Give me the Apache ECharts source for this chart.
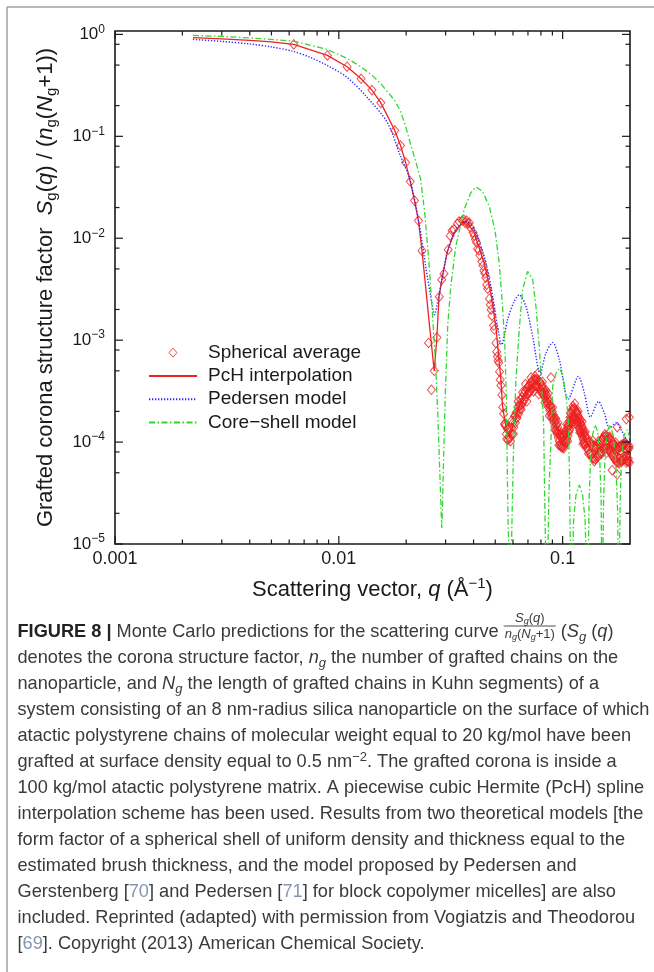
<!DOCTYPE html>
<html>
<head>
<meta charset="utf-8">
<script src="https://cdn.jsdelivr.net/npm/echarts@6/dist/echarts.min.js"></script>
<style>
  html, body { margin: 0; padding: 0; background: #ffffff; }
  #chart { width: 654px; height: 972px; }
</style>
</head>
<body>
<div id="chart"></div>
<script>
// ---- axis ranges and tick values ----
const Q_MIN = 0.001, Q_MAX = 0.2;
const S_MIN = 1e-5, S_MAX = 1.08;

const xTickValues = [0.001, 0.01, 0.1];
const xTickLabels = ['0.001', '0.01', '0.1'];
const xMinorTicks = [0.002, 0.003, 0.004, 0.005, 0.006, 0.007, 0.008, 0.009,
                     0.02, 0.03, 0.04, 0.05, 0.06, 0.07, 0.08, 0.09];

const yTickValues = [1e-5, 1e-4, 1e-3, 1e-2, 1e-1, 1];
const yTickExponents = ['−5', '−4', '−3', '−2', '−1', '0'];
const yMinorTicks = [2e-5, 5e-5, 8e-5, 2e-4, 5e-4, 8e-4, 2e-3, 5e-3, 8e-3,
                     0.02, 0.05, 0.08, 0.2, 0.5, 0.8];

// ---- Monte Carlo spherical average, [q (1/Å), Sg/(ng(Ng+1))] ----
const sphericalAverage = [
  [0.00629,0.798],[0.00889,0.622],[0.01089,0.482],[0.01258,0.367],[0.01406,0.284],
  [0.01541,0.213],[0.01779,0.114],[0.01887,0.0812],[0.01989,0.0553],[0.02086,0.036],
  [0.02179,0.0234],[0.02268,0.0149],[0.02353,0.00755],[0.02516,9.4e-4],[0.02593,3.26e-4],
  [0.02669,5.0e-4],[0.02742,1.06e-3],[0.02813,2.67e-3],[0.02882,3.92e-3],[0.0295,4.49e-3],
  [0.03081,7.73e-3],[0.03145,0.0106],[0.03207,0.0119],[0.03268,0.0122],[0.03387,0.0139],
  [0.03445,0.0146],[0.03558,0.0149],[0.03613,0.0152],[0.03668,0.0142],[0.03721,0.0149],
  [0.03774,0.0139],[0.03826,0.0142],[0.03877,0.0127],[0.03978,0.0114],[0.04028,0.0106],
  [0.04076,0.0097],[0.04125,0.0091],[0.04172,0.0079],[0.0422,0.0076],[0.04266,0.0068],
  [0.04358,0.0059],[0.04403,0.0054],[0.04448,0.0048],[0.04492,0.0045],[0.04536,0.0041],
  [0.04579,0.0035],[0.04622,0.0032],[0.04707,0.00255],[0.04749,0.00223],[0.0479,0.00199],
  [0.04831,0.00174],[0.04913,0.00139],[0.04953,0.00127],[0.05032,9.4e-4],[0.05071,7.7e-4],
  [0.0511,6.9e-4],[0.05149,6.3e-4],[0.05187,6.0e-4],[0.05225,4.9e-4],[0.05262,4.1e-4],
  [0.053,3.6e-4],[0.0535,2.9e-4],[0.054,2.2e-4],[0.0545,1.9e-4],[0.055,1.5e-4],
  [0.0555,1.45e-4],[0.056,1.2e-4],[0.0565,1.35e-4],[0.057,1.05e-4],[0.0575,1.1e-4],
  [0.058,1.25e-4],[0.0585,1.02e-4],[0.059,1.38e-4],[0.0595,1.2e-4],[0.06,1.55e-4],
  [0.0605,1.4e-4],[0.061,1.78e-4],[0.0615,1.55e-4],[0.062,1.95e-4],[0.0625,1.75e-4],
  [0.063,2.2e-4],[0.0635,1.9e-4],[0.064,2.35e-4],[0.0645,2.1e-4],[0.065,2.6e-4],
  [0.0655,2.3e-4],[0.066,2.75e-4],[0.0665,2.45e-4],[0.067,2.95e-4],[0.0675,2.6e-4],
  [0.068,3.15e-4],[0.0685,2.8e-4],[0.069,3.3e-4],[0.0695,2.95e-4],[0.07,3.5e-4],
  [0.0705,3.05e-4],[0.071,3.6e-4],[0.0715,3.2e-4],[0.072,3.85e-4],[0.0725,3.35e-4],
  [0.073,3.95e-4],[0.0735,3.4e-4],[0.074,4.05e-4],[0.0745,3.5e-4],[0.075,4.1e-4],
  [0.0755,3.55e-4],[0.076,4.15e-4],[0.0765,3.6e-4],[0.077,4.1e-4],[0.0775,3.5e-4],
  [0.078,4.0e-4],[0.0785,3.4e-4],[0.079,3.9e-4],[0.0795,3.3e-4],[0.08,3.75e-4],
  [0.0805,3.15e-4],[0.081,3.55e-4],[0.0815,3.0e-4],[0.082,3.35e-4],[0.0825,2.85e-4],
  [0.083,3.15e-4],[0.0835,2.7e-4],[0.084,3.0e-4],[0.0845,2.55e-4],[0.085,2.85e-4],
  [0.0855,2.4e-4],[0.086,2.65e-4],[0.0865,2.2e-4],[0.087,2.5e-4],[0.0875,2.05e-4],
  [0.088,2.3e-4],[0.0885,1.9e-4],[0.0887,4.3e-4],[0.089,2.15e-4],[0.0895,1.8e-4],
  [0.09,2.0e-4],[0.0905,1.65e-4],[0.091,1.85e-4],[0.0915,1.55e-4],[0.092,1.72e-4],
  [0.0925,1.42e-4],[0.093,1.58e-4],[0.0935,1.3e-4],[0.094,1.5e-4],[0.0945,1.2e-4],
  [0.095,1.4e-4],[0.0955,1.1e-4],[0.096,1.28e-4],[0.0965,1.02e-4],[0.097,1.2e-4],
  [0.0975,9.4e-5],[0.098,1.12e-4],[0.0985,9.0e-5],[0.099,1.1e-4],[0.0995,8.8e-5],
  [0.1,1.12e-4],[0.1005,9.0e-5],[0.101,1.14e-4],[0.1015,9.3e-5],[0.102,1.16e-4],
  [0.1025,9.6e-5],[0.103,1.2e-4],[0.1035,1.0e-4],[0.104,1.3e-4],[0.1045,1.08e-4],
  [0.105,1.38e-4],[0.1055,1.15e-4],[0.106,1.48e-4],[0.1065,1.25e-4],[0.107,1.6e-4],
  [0.1075,1.35e-4],[0.108,1.75e-4],[0.1085,1.48e-4],[0.109,1.9e-4],[0.1095,1.6e-4],
  [0.11,2.05e-4],[0.1105,1.7e-4],[0.111,2.1e-4],[0.1115,1.75e-4],[0.112,2.15e-4],
  [0.1125,1.78e-4],[0.113,2.12e-4],[0.1135,1.72e-4],[0.114,2.05e-4],[0.1145,1.68e-4],
  [0.115,2.0e-4],[0.1155,1.62e-4],[0.116,1.95e-4],[0.1165,1.55e-4],[0.117,1.85e-4],
  [0.1175,1.45e-4],[0.118,1.75e-4],[0.1185,1.38e-4],[0.119,1.65e-4],[0.1195,1.3e-4],
  [0.12,1.55e-4],[0.1205,1.25e-4],[0.121,1.5e-4],[0.1215,1.2e-4],[0.122,1.42e-4],
  [0.1225,1.13e-4],[0.123,1.35e-4],[0.1235,1.06e-4],[0.124,1.28e-4],[0.1245,1.0e-4],
  [0.125,1.22e-4],[0.1255,9.6e-5],[0.126,1.16e-4],[0.1265,9.3e-5],[0.127,1.12e-4],
  [0.128,8.8e-5],[0.129,1.05e-4],[0.13,8.3e-5],[0.131,1.0e-4],[0.132,7.8e-5],
  [0.133,9.6e-5],[0.134,7.4e-5],[0.135,9.4e-5],[0.136,7.0e-5],[0.137,9.2e-5],
  [0.138,6.9e-5],[0.139,9.0e-5],[0.14,6.8e-5],[0.141,9.1e-5],[0.142,7.0e-5],
  [0.143,9.3e-5],[0.144,7.2e-5],[0.145,9.6e-5],[0.146,7.5e-5],[0.147,1.0e-4],
  [0.148,7.8e-5],[0.149,1.04e-4],[0.15,8.1e-5],[0.151,1.08e-4],[0.152,8.4e-5],
  [0.153,1.12e-4],[0.154,8.6e-5],[0.155,1.14e-4],[0.156,8.7e-5],[0.157,1.15e-4],
  [0.158,8.6e-5],[0.159,1.12e-4],[0.16,8.4e-5],[0.161,1.1e-4],[0.162,8.2e-5],
  [0.163,1.08e-4],[0.164,8.0e-5],[0.165,1.03e-4],[0.1664,5.3e-5],[0.166,7.6e-5],
  [0.167,9.8e-5],[0.168,7.2e-5],[0.169,9.4e-5],[0.17,6.9e-5],[0.171,9.2e-5],
  [0.172,6.7e-5],[0.173,9.0e-5],[0.174,6.5e-5],[0.1752,4.8e-5],[0.1753,1.4e-4],
  [0.1755,8.8e-5],[0.177,6.3e-5],[0.178,8.9e-5],[0.179,6.2e-5],[0.18,9.0e-5],
  [0.181,6.4e-5],[0.182,9.2e-5],[0.183,6.5e-5],[0.184,9.4e-5],[0.185,6.7e-5],
  [0.186,9.5e-5],[0.187,6.8e-5],[0.188,9.6e-5],[0.189,6.9e-5],[0.19,9.5e-5],
  [0.191,6.8e-5],[0.1923,1.68e-4],[0.192,9.3e-5],[0.193,6.6e-5],[0.194,9.1e-5],
  [0.195,6.5e-5],[0.196,8.9e-5],[0.197,6.4e-5],[0.198,8.7e-5],[0.1985,1.75e-4],
  [0.199,6.3e-5],
  [0.05525,1.52e-4],[0.05625,1.07e-4],[0.05725,1.37e-4],[0.05825,1.1e-4],[0.05925,1.62e-4],
  [0.06025,1.2e-4],[0.06125,1.83e-4],[0.06225,1.71e-4],[0.06325,2.51e-4],[0.06425,2.26e-4],
  [0.06525,2.09e-4],[0.06625,3.09e-4],[0.06725,2.62e-4],[0.06825,3.71e-4],[0.06925,2.51e-4],
  [0.07025,3.52e-4],[0.07125,3.06e-4],[0.07225,4.3e-4],[0.07325,3.67e-4],[0.07425,3.14e-4],
  [0.07525,4.43e-4],[0.07625,3.55e-4],[0.07725,4.69e-4],[0.07825,2.96e-4],[0.07925,3.84e-4],
  [0.08025,3.06e-4],[0.08125,3.9e-4],[0.08225,3.06e-4],[0.08325,2.44e-4],[0.08425,3.23e-4],
  [0.08525,2.42e-4],[0.08625,2.99e-4],[0.08725,1.81e-4],[0.08825,2.24e-4],[0.08925,1.74e-4],
  [0.09025,2.18e-4],[0.09125,1.69e-4],[0.09225,1.32e-4],[0.09325,1.7e-4],[0.09425,1.26e-4],
  [0.09525,1.55e-4],[0.09625,9.3e-5],[0.09725,1.16e-4],[0.09825,9.2e-5],[0.09925,1.22e-4],
  [0.10025,1.02e-4],[0.10125,8.7e-5],[0.10225,1.24e-4],[0.10325,1.04e-4],[0.10425,1.49e-4],
  [0.10525,1.02e-4],[0.10625,1.47e-4],[0.10725,1.31e-4],[0.10825,1.93e-4],[0.10925,1.75e-4],
  [0.11025,1.57e-4],[0.11125,2.26e-4],[0.11225,1.81e-4],[0.11325,2.38e-4],[0.11425,1.5e-4],
  [0.11525,1.96e-4],[0.11625,1.58e-4],[0.11725,2.02e-4],[0.11825,1.58e-4],[0.11925,1.24e-4],
  [0.12025,1.65e-4],[0.12125,1.26e-4],[0.12225,1.59e-4],[0.12325,9.6e-5],[0.12425,1.22e-4],
  [0.12525,9.7e-5],[0.12625,1.26e-4],[0.1285,9.8e-5],[0.1305,7.7e-5],[0.1325,1.02e-4],
  [0.1345,7.8e-5],[0.1365,1.03e-4],[0.1385,6.5e-5],[0.1405,8.6e-5],[0.1425,7.3e-5],
  [0.1445,1.02e-4],[0.1465,8.8e-5],[0.1485,7.6e-5],[0.1505,1.08e-4],[0.1525,8.7e-5],
  [0.1545,1.19e-4],[0.1565,7.8e-5],[0.1585,1.04e-4],[0.1605,8.5e-5],[0.1625,1.13e-4],
  [0.1645,9.1e-5],[0.1665,7.4e-5],[0.1685,9.9e-5],[0.1705,7.6e-5],[0.1725,9.9e-5],
  [0.1745,6.3e-5],[0.1765,8.3e-5],[0.1785,6.9e-5],[0.1805,9.0e-5],[0.1825,7.6e-5],
  [0.1845,6.5e-5],[0.1865,9.1e-5],[0.1885,7.3e-5],[0.1905,9.9e-5],[0.1925,6.3e-5],
  [0.1945,8.3e-5],[0.1965,6.9e-5],[0.1985,9.1e-5]
];

// ---- piecewise cubic Hermite interpolation of the simulation data ----
const pchInterpolation = [
  [0.00223,0.93],[0.003,0.903],[0.004,0.873],[0.005,0.844],[0.00629,0.798],[0.00889,0.622],
  [0.01089,0.482],[0.01258,0.367],[0.01406,0.284],[0.01541,0.213],[0.01779,0.114],
  [0.01887,0.0812],[0.01989,0.0553],[0.02086,0.036],[0.02179,0.0234],[0.02268,0.0149],
  [0.02353,0.00755],[0.0248,2.4e-3],[0.0255,1.3e-3],[0.02669,5.0e-4],[0.02738,1.01e-3],
  [0.02805,2.69e-3],[0.02904,4.22e-3],[0.03057,7.43e-3],[0.03273,0.01127],[0.03569,0.01414],
  [0.0366,0.0148],[0.03758,0.01414],[0.04024,0.01127],[0.04461,5.72e-3],[0.04779,2.9e-3],
  [0.05033,1.36e-3],[0.05298,4.08e-4],[0.05391,2.23e-4],[0.0564,1.23e-4],[0.0581,1.15e-4],
  [0.0599,1.44e-4],[0.0624,1.94e-4],[0.0651,2.48e-4],[0.0686,3.04e-4],[0.0722,3.57e-4],
  [0.076,3.82e-4],[0.08,3.49e-4],[0.0843,2.78e-4],[0.0887,2.03e-4],[0.0934,1.44e-4],
  [0.0984,1.03e-4],[0.1025,1.05e-4],[0.1069,1.44e-4],[0.1113,1.94e-4],[0.116,1.81e-4],
  [0.1209,1.38e-4],[0.1273,1.03e-4],[0.134,8.4e-5],[0.1411,8.0e-5],[0.1486,9.0e-5],
  [0.1564,9.8e-5],[0.163,9.4e-5],[0.172,8.0e-5],[0.181,7.5e-5],[0.19,8.0e-5],[0.2,7.5e-5]
];

// ---- Pedersen model for block copolymer micelles ----
const pedersenModel = [
  [0.00223,0.893],[0.003,0.854],[0.00398,0.807],[0.00499,0.754],[0.00627,0.681],
  [0.00747,0.594],[0.00887,0.496],[0.0109,0.378],[0.0134,0.2404],[0.01647,0.1366],
  [0.01889,0.0633],[0.0208,0.0376],[0.02282,0.01414],[0.02445,5.3e-3],[0.02574,2.69e-3],
  [0.0268,1.78e-3],[0.02776,2.49e-3],[0.02904,4.22e-3],[0.03057,7.43e-3],[0.03273,0.01127],
  [0.03445,0.0133],[0.03692,0.01466],[0.04024,0.01215],[0.04461,6.64e-3],[0.04779,3.37e-3],
  [0.05121,1.36e-3],[0.0534,9.01e-4],[0.05676,1.59e-3],[0.06078,2.4e-3],[0.064,2.79e-3],
  [0.06856,2.14e-3],[0.07347,1.09e-3],[0.07943,4.75e-4],[0.08426,7.47e-4],[0.09028,9.49e-4],
  [0.09666,6.42e-4],[0.1061,2.64e-4],[0.1176,4.4e-4],[0.1251,3.02e-4],[0.1331,1.76e-4],
  [0.1445,2.5e-4],[0.1537,1.92e-4],[0.1619,1.37e-4],[0.1734,1.55e-4],[0.1826,1.32e-4],
  [0.1957,1.01e-4],[0.2,1.0e-4]
];

// ---- form factor of a uniform spherical shell ----
const coreShellModel = [
  [0.00223,0.977],[0.003,0.956],[0.004,0.924],[0.005,0.893],[0.00629,0.859],[0.00887,0.712],
  [0.0109,0.581],[0.0125,0.485],[0.0141,0.396],[0.0155,0.323],[0.01776,0.225],[0.01889,0.175],
  [0.01989,0.125],[0.02095,0.0831],[0.02206,0.0566],[0.02322,0.0376],[0.0242,0.0178],
  [0.02529,5.72e-3],[0.0262,1.85e-3],[0.0271,5.52e-4],[0.02775,1.65e-4],[0.02834,4.25e-5],
  [0.0287,1.93e-5],[0.02884,1.44e-5],[0.02902,2.06e-5],[0.02938,6.69e-5],[0.0299,2.91e-4],
  [0.03068,1.42e-3],[0.03164,3.37e-3],[0.03331,8.32e-3],[0.03629,0.0191],[0.03889,0.0279],
  [0.04095,0.0319],[0.04388,0.0289],[0.04696,0.0206],[0.04982,0.01215],[0.05208,5.72e-3],
  [0.05391,2.14e-3],[0.05521,8.67e-4],[0.05607,2.6e-4],[0.05683,2.7e-5],[0.05825,2e-6],
  [0.05965,2.7e-5],[0.06046,1.05e-4],[0.06184,4.08e-4],[0.06398,1.27e-3],[0.06626,3.13e-3],
  [0.06977,4.73e-3],[0.07347,3.92e-3],[0.076,2.14e-3],[0.07863,8.67e-4],[0.0806,3.51e-4],
  [0.08228,1.42e-4],[0.08304,3.39e-5],[0.08496,2e-6],[0.08691,3.39e-5],[0.08871,1.05e-4],
  [0.09028,3.51e-4],[0.0934,4.75e-4],[0.09666,5.32e-4],[0.1001,4.57e-4],[0.1036,2.8e-4],
  [0.1061,1.65e-4],[0.1074,4.25e-5],[0.1091,2e-6],[0.1119,1.72e-5],[0.1148,3.03e-5],
  [0.1188,3.8e-5],[0.1228,3.03e-5],[0.126,1.72e-5],[0.1293,2e-6],[0.1313,2.7e-5],
  [0.1333,6.69e-5],[0.1361,1.18e-4],[0.1397,1.48e-4],[0.1434,1.26e-4],[0.1463,7.49e-5],
  [0.1486,2.7e-5],[0.1501,2e-6],[0.1524,2.7e-5],[0.1548,7.49e-5],[0.158,1.26e-4],
  [0.163,1.48e-4],[0.1681,1.18e-4],[0.1725,6.69e-5],[0.1761,2.16e-5],[0.178,2e-6],
  [0.1808,2.7e-5],[0.1836,7.49e-5],[0.1884,1.18e-4],[0.1943,1.32e-4],[0.2,1.1e-4]
];

// ---- caption text ----
const captionLead = '{b|FIGURE 8 |} Monte Carlo predictions for the scattering curve';
const captionTail = '({i|S}{isub|g} ({i|q})';
const captionLines = [
  'denotes the corona structure factor, {i|n}{isub|g} the number of grafted chains on the',
  'nanoparticle, and {i|N}{isub|g} the length of grafted chains in Kuhn segments) of a',
  'system consisting of an 8 nm-radius silica nanoparticle on the surface of which',
  'atactic polystyrene chains of molecular weight equal to 20 kg/mol have been',
  'grafted at surface density equal to 0.5 nm{sup|−2}. The grafted corona is inside a',
  '100 kg/mol atactic polystyrene matrix. A piecewise cubic Hermite (PcH) spline',
  'interpolation scheme has been used. Results from two theoretical models [the',
  'form factor of a spherical shell of uniform density and thickness equal to the',
  'estimated brush thickness, and the model proposed by Pedersen and',
  'Gerstenberg [{ref|70}] and Pedersen [{ref|71}] for block copolymer micelles] are also',
  'included. Reprinted (adapted) with permission from Vogiatzis and Theodorou',
  '[{ref|69}]. Copyright (2013) American Chemical Society.'
];

// ---- styling ----
const FONT = 'Liberation Sans';
const INK = '#1a1a1a';
const RED = '#ee2222', BLUE = '#2b2bff', GREEN = '#2fd82f';
const CAP_SIZE = 18.2, CAP_SMALL = 13, CAP_COLOR = '#3a3a3a', REF_COLOR = '#8596b0';
// legend marker: a small diamond centred in a box as wide as the legend line samples
const LEGEND_DIAMOND = 'path://M0,0 M48,9 M24,0 L28,4.5 L24,9 L20,4.5 Z';

const chart = echarts.init(document.getElementById('chart'), null, { renderer: 'canvas' });

function sameDecade(a, b) { return Math.abs(Math.log10(a) - Math.log10(b)) < 1e-6; }

// inward tick marks on both sides of the frame
function tickSeries(values, dir, len) {
  return {
    type: 'custom', silent: true, z: 10, clip: false,
    data: values.map(v => dir === 'x' ? [v, S_MIN] : [Q_MIN, v]),
    renderItem: function (params, api) {
      const st = { stroke: INK, lineWidth: 1.2 };
      if (dir === 'x') {
        const v = api.value(0);
        const a = api.coord([v, S_MIN]), b = api.coord([v, S_MAX]);
        return { type: 'group', children: [
          { type: 'line', shape: { x1: a[0], y1: a[1], x2: a[0], y2: a[1] - len }, style: st },
          { type: 'line', shape: { x1: b[0], y1: b[1], x2: b[0], y2: b[1] + len }, style: st }
        ]};
      }
      const v = api.value(1);
      const a = api.coord([Q_MIN, v]), b = api.coord([Q_MAX, v]);
      return { type: 'group', children: [
        { type: 'line', shape: { x1: a[0], y1: a[1], x2: a[0] + len, y2: a[1] }, style: st },
        { type: 'line', shape: { x1: b[0], y1: b[1], x2: b[0] - len, y2: b[1] }, style: st }
      ]};
    }
  };
}

// caption rich styles (graphic text needs full font settings per token)
function tok(extra) {
  return Object.assign({ fontFamily: FONT, fontSize: CAP_SIZE, fontWeight: 'normal',
                         fontStyle: 'normal', fill: CAP_COLOR }, extra);
}
const capRich = {
  b: tok({ fontWeight: 'bold', fill: '#222222' }),
  i: tok({ fontStyle: 'italic' }),
  isub: tok({ fontStyle: 'italic', fontSize: CAP_SMALL, padding: [10, 0, 0, 0] }),
  sup: tok({ fontSize: CAP_SMALL, padding: [0, 0, 10, 0] }),
  ref: tok({ fill: REF_COLOR })
};
const fracRich = {
  i: tok({ fontStyle: 'italic', fontSize: 13 }),
  isub: tok({ fontStyle: 'italic', fontSize: 9, padding: [6, 0, 0, 0] })
};

const ctx = document.createElement('canvas').getContext('2d');
function tw(str, size, weight, style) {
  ctx.font = (style || 'normal') + ' ' + (weight || 'normal') + ' ' + size + 'px "' + FONT + '"';
  return ctx.measureText(str).width;
}

const CAP_X = 17.5, CAP_Y0 = 632, CAP_STEP = 26;
const leadW = tw('FIGURE 8 |', CAP_SIZE, 'bold') + tw(' Monte Carlo predictions for the scattering curve', CAP_SIZE);
const fracX = CAP_X + leadW + 6;
const denomW = tw('n', 13, 'normal', 'italic') + tw('g', 9, 'normal', 'italic') + tw('(', 13) +
               tw('N', 13, 'normal', 'italic') + tw('g', 9, 'normal', 'italic') + tw('+1)', 13);
const fracC = fracX + denomW / 2;

const graphics = [
  { type: 'line', silent: true, shape: { x1: 7, y1: 7, x2: 654, y2: 7 }, style: { stroke: '#a0a0a0', lineWidth: 1.5 } },
  { type: 'line', silent: true, shape: { x1: 7, y1: 7, x2: 7, y2: 972 }, style: { stroke: '#a0a0a0', lineWidth: 1.5 } },
  { type: 'text', x: CAP_X, y: CAP_Y0, style: Object.assign(tok({}), { text: captionLead, rich: capRich, verticalAlign: 'middle', align: 'left' }) },
  { type: 'text', x: fracC, y: CAP_Y0 - 13.5, style: Object.assign(tok({ fontSize: 13 }), { text: '{i|S}{isub|g}({i|q})', rich: fracRich, verticalAlign: 'middle', align: 'center' }) },
  { type: 'line', shape: { x1: fracX - 1, y1: CAP_Y0 - 6, x2: fracX + denomW + 1, y2: CAP_Y0 - 6 }, style: { stroke: CAP_COLOR, lineWidth: 0.9 } },
  { type: 'text', x: fracC, y: CAP_Y0 + 2, style: Object.assign(tok({ fontSize: 13 }), { text: '{i|n}{isub|g}({i|N}{isub|g}+1)', rich: fracRich, verticalAlign: 'middle', align: 'center' }) },
  { type: 'text', x: fracX + denomW + 6, y: CAP_Y0, style: Object.assign(tok({}), { text: captionTail, rich: capRich, verticalAlign: 'middle', align: 'left' }) }
];
captionLines.forEach(function (line, k) {
  graphics.push({ type: 'text', x: CAP_X, y: CAP_Y0 + CAP_STEP * (k + 1),
    style: Object.assign(tok({}), { text: line, rich: capRich, verticalAlign: 'middle', align: 'left' }) });
});

const axisTitleRich = {
  i: { fontFamily: FONT, fontSize: 22, fontStyle: 'italic', color: INK },
  sub: { fontFamily: FONT, fontSize: 15, color: INK, padding: [12, 0, 0, 0] },
  sup: { fontFamily: FONT, fontSize: 15, color: INK, padding: [0, 0, 12, 0] }
};

const CLEAR = 'rgba(0,0,0,0)';

const option = {
  animation: false,
  backgroundColor: '#ffffff',
  grid: { left: 115, top: 31, right: 24, bottom: 428, show: true, borderColor: INK, borderWidth: 1.6,
          containLabel: false, outerBoundsMode: 'none' },
  xAxis: {
    type: 'log', logBase: 10, min: Q_MIN, max: Q_MAX,
    axisLine: { show: false }, axisTick: { show: false }, splitLine: { show: false },
    axisLabel: {
      margin: 6, fontFamily: FONT, fontSize: 18, color: INK,
      formatter: function (v) {
        const i = xTickValues.findIndex(t => sameDecade(t, v));
        return i < 0 ? '' : xTickLabels[i];
      }
    },
    name: 'Scattering vector, {i|q} (Å{sup|−1})',
    nameLocation: 'middle', nameGap: 32,
    nameTextStyle: { fontFamily: FONT, fontSize: 22, color: INK, rich: axisTitleRich }
  },
  yAxis: {
    type: 'log', logBase: 10, min: S_MIN, max: S_MAX,
    axisLine: { show: false }, axisTick: { show: false }, splitLine: { show: false },
    axisLabel: {
      margin: 10, fontFamily: FONT, fontSize: 17, color: INK,
      rich: { sup: { fontFamily: FONT, fontSize: 12, color: INK, padding: [0, 0, 10, 0] } },
      formatter: function (v) {
        const i = yTickValues.findIndex(t => sameDecade(t, v));
        return i < 0 ? '' : '10{sup|' + yTickExponents[i] + '}';
      }
    },
    name: 'Grafted corona structure factor  {i|S}{sub|g}({i|q}) / ({i|n}{sub|g}({i|N}{sub|g}+1))',
    nameLocation: 'middle', nameGap: 56, nameRotate: 90,
    nameTextStyle: { fontFamily: FONT, fontSize: 22, color: INK, rich: axisTitleRich }
  },
  legend: {
    orient: 'vertical', left: 148, top: 341, padding: 0, itemGap: 0,
    itemWidth: 48, itemHeight: 9, selectedMode: false,
    textStyle: { fontFamily: FONT, fontSize: 19, color: INK, lineHeight: 23.3, padding: [0, 0, 0, 6] },
    data: [
      { name: 'Spherical average', icon: LEGEND_DIAMOND,
        itemStyle: { color: '#ffffff', borderColor: RED, borderWidth: 1 } },
      { name: 'PcH interpolation', itemStyle: { color: CLEAR, borderColor: CLEAR, borderWidth: 0 } },
      { name: 'Pedersen model', itemStyle: { color: CLEAR, borderColor: CLEAR, borderWidth: 0 } },
      { name: 'Core−shell model', itemStyle: { color: CLEAR, borderColor: CLEAR, borderWidth: 0 } }
    ]
  },
  series: [
    { name: 'Spherical average', type: 'scatter', data: sphericalAverage, z: 2,
      symbol: 'diamond', symbolSize: [8, 9.5],
      itemStyle: { color: CLEAR, borderColor: RED, borderWidth: 1 },
      emphasis: { disabled: true } },
    { name: 'PcH interpolation', type: 'line', data: pchInterpolation, z: 3,
      symbol: 'none', showSymbol: false,
      lineStyle: { color: RED, width: 1.3 }, itemStyle: { color: RED } },
    { name: 'Pedersen model', type: 'line', data: pedersenModel, z: 4,
      symbol: 'none', showSymbol: false, smooth: 0.3,
      lineStyle: { color: BLUE, width: 1.4, type: [1.3, 1.7] }, itemStyle: { color: BLUE } },
    { name: 'Core−shell model', type: 'line', data: coreShellModel, z: 5,
      symbol: 'none', showSymbol: false,
      lineStyle: { color: GREEN, width: 1.3, type: [6, 2.5, 1.5, 2.5] }, itemStyle: { color: GREEN } },
    tickSeries(xTickValues, 'x', 8),
    tickSeries(xMinorTicks, 'x', 4.5),
    tickSeries(yTickValues, 'y', 8),
    tickSeries(yMinorTicks, 'y', 4.5)
  ],
  graphic: graphics
};

chart.setOption(option);
</script>
</body>
</html>
